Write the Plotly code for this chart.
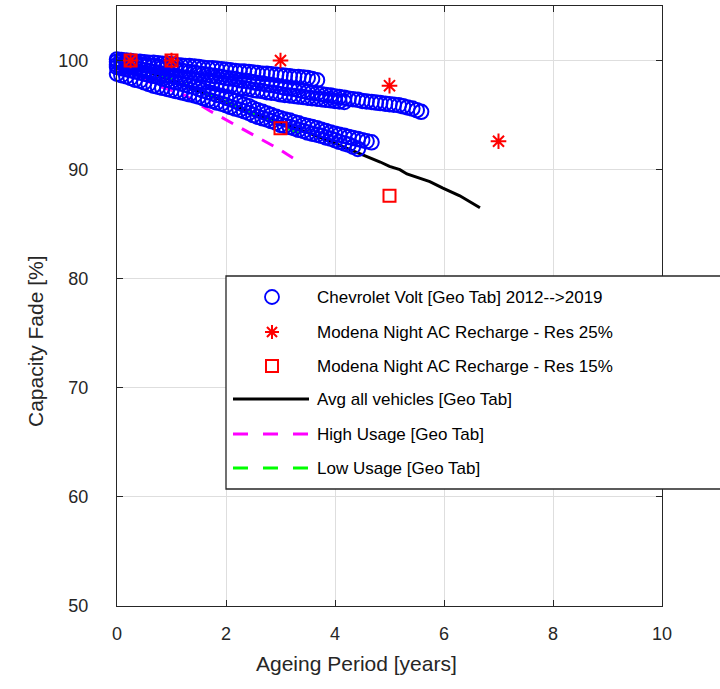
import plotly.graph_objects as go

# Vehicle age grid (years, monthly steps)
AGE_YEARS = [
    0.00, 0.08, 0.17, 0.25, 0.33, 0.42, 0.50, 0.58, 0.67, 0.75, 0.83, 0.92,
    1.00, 1.08, 1.17, 1.25, 1.33, 1.42, 1.50, 1.58, 1.67, 1.75, 1.83, 1.92,
    2.00, 2.08, 2.17, 2.25, 2.33, 2.42, 2.50, 2.58, 2.67, 2.75, 2.83, 2.92,
    3.00, 3.08, 3.17, 3.25, 3.33, 3.42, 3.50, 3.58, 3.67, 3.75, 3.83, 3.92,
    4.00, 4.08, 4.17, 4.25, 4.33, 4.42, 4.50, 4.58, 4.67, 4.75, 4.83, 4.92,
    5.00, 5.08, 5.17, 5.25, 5.33, 5.42, 5.50, 5.58,
]

# Chevrolet Volt capacity (%) per vehicle group, Geotab data
VOLT_A = [100.1, 100.05, 100.0, 99.95, 99.9, 99.9, 99.85, 99.8, 99.8, 99.75, 99.7, 99.7,
          99.65, 99.6, 99.55, 99.5, 99.5, 99.45, 99.4, 99.35, 99.3, 99.3, 99.25, 99.2,
          99.15, 99.1, 99.05, 99.0, 99.0, 98.95, 98.9, 98.85, 98.8, 98.8, 98.75, 98.7,
          98.65, 98.6, 98.55, 98.5, 98.5, 98.45, 98.4, 98.3, 98.2]
VOLT_B = [99.9, 99.85, 99.8, 99.75, 99.7, 99.65, 99.6, 99.55, 99.5, 99.4, 99.35, 99.3,
          99.2, 99.15, 99.1, 99.0, 98.95, 98.9, 98.8, 98.75, 98.7, 98.6, 98.55, 98.5,
          98.4, 98.35, 98.3, 98.2, 98.15, 98.1, 98.0, 97.95, 97.9, 97.8, 97.75, 97.7,
          97.6, 97.5, 97.45, 97.4, 97.3, 97.2, 97.1, 97.05, 97.0, 96.9, 96.85, 96.8,
          96.7, 96.65, 96.6, 96.5, 96.45, 96.4, 96.3, 96.25, 96.2, 96.15, 96.1, 96.05,
          96.0, 95.95, 95.9, 95.8, 95.7, 95.6, 95.45, 95.3]
VOLT_C = [99.6, 99.5, 99.45, 99.4, 99.3, 99.2, 99.1, 99.05, 98.95, 98.9, 98.8, 98.7,
          98.6, 98.55, 98.45, 98.4, 98.3, 98.2, 98.1, 98.05, 98.0, 97.95, 97.85, 97.8,
          97.7, 97.65, 97.6, 97.5, 97.45, 97.4, 97.3, 97.25, 97.2, 97.1, 97.05, 97.0,
          96.9, 96.85, 96.8, 96.75, 96.7, 96.65, 96.6, 96.55, 96.5, 96.45, 96.4, 96.35,
          96.3, 96.25, 96.2]
VOLT_D = [98.8, 98.65, 98.55, 98.4, 98.25, 98.15, 98.0, 97.85, 97.7, 97.6, 97.5, 97.4,
          97.3, 97.2, 97.1, 97.0, 96.9, 96.8, 96.7, 96.55, 96.4, 96.3, 96.15, 96.05,
          95.9, 95.75, 95.6, 95.5, 95.35, 95.2, 95.0, 94.85, 94.7, 94.6, 94.45, 94.3,
          94.1, 94.0, 93.9, 93.8, 93.65, 93.55, 93.4, 93.3, 93.2, 93.1, 92.95, 92.85,
          92.7, 92.55, 92.4, 92.3, 92.1, 91.9]
VOLT_E = [99.4, 99.3, 99.2, 99.1, 99.0, 98.9, 98.8, 98.7, 98.6, 98.5, 98.35, 98.25,
          98.1, 98.0, 97.9, 97.8, 97.65, 97.55, 97.4, 97.25, 97.1, 97.0, 96.85, 96.75,
          96.6, 96.45, 96.3, 96.1, 95.95, 95.8, 95.6, 95.45, 95.3, 95.15, 95.0, 94.85,
          94.7, 94.6, 94.5, 94.35, 94.25, 94.1, 94.0, 93.9, 93.8, 93.65, 93.55, 93.4,
          93.3, 93.2, 93.1, 93.0, 92.9, 92.8, 92.7, 92.6, 92.5]
VOLT_GROUPS = [VOLT_A, VOLT_B, VOLT_C, VOLT_D, VOLT_E]

# Modena night AC recharge simulations
RES25_YEARS = [0.25, 1.0, 3.0, 5.0, 7.0]
RES25_CAP = [100.0, 100.0, 100.0, 97.7, 92.6]
RES15_YEARS = [0.25, 1.0, 3.0, 5.0]
RES15_CAP = [100.0, 100.0, 93.8, 87.6]

# Geotab fleet curves
AVG_YEARS = [0, 0.5, 1.0, 1.5, 2.0, 2.5, 3.0, 3.5, 4.0, 4.5, 4.83, 5.0, 5.19, 5.32,
             5.74, 5.98, 6.29, 6.66]
AVG_CAP = [100.0, 99.1, 98.2, 97.2, 96.2, 95.2, 94.3, 93.4, 92.4, 91.4, 90.7, 90.3,
           90.0, 89.6, 88.9, 88.3, 87.6, 86.5]
HIGH_YEARS = [0, 0.4, 0.75, 1.25, 1.7, 2.13, 2.62, 3.0, 3.12, 3.25]
HIGH_CAP = [99.0, 98.4, 97.7, 96.8, 95.4, 94.2, 92.9, 91.8, 91.4, 91.0]
LOW_YEARS = [0, 0.5, 1.0, 1.5, 2.0, 2.5, 3.0, 3.35]
LOW_CAP = [100.0, 99.2, 98.3, 97.3, 96.3, 95.1, 94.0, 93.3]

LEGEND_LABELS = [
    "Chevrolet Volt [Geo Tab] 2012-->2019",
    "Modena Night AC Recharge - Res 25%",
    "Modena Night AC Recharge - Res 15%",
    "Avg all vehicles [Geo Tab]",
    "High Usage [Geo Tab]",
    "Low Usage [Geo Tab]",
]

FONT = "Liberation Sans, Arial, Helvetica, sans-serif"
AXIS_COLOR = "#262626"
GRID_COLOR = "#dedede"

W, H = 720, 689
ML, MR, MT, MB = 117, 58, 6, 83
PW, PH = W - ML - MR, H - MT - MB

fig = go.Figure()

dash = "13px,10px"
fig.add_trace(go.Scatter(x=AVG_YEARS, y=AVG_CAP, mode="lines",
                         line=dict(color="black", width=3), showlegend=False))
fig.add_trace(go.Scatter(x=LOW_YEARS, y=LOW_CAP, mode="lines",
                         line=dict(color="#00ff00", width=3, dash=dash), showlegend=False))
fig.add_trace(go.Scatter(x=HIGH_YEARS, y=HIGH_CAP, mode="lines",
                         line=dict(color="#ff00ff", width=3, dash=dash), showlegend=False))

for grp in VOLT_GROUPS:
    fig.add_trace(go.Scatter(
        x=AGE_YEARS[:len(grp)], y=grp, mode="markers", cliponaxis=False,
        marker=dict(symbol="circle-open", size=14.5, color="#0000ff",
                    line=dict(width=2, color="#0000ff")),
        showlegend=False))

fig.add_trace(go.Scatter(
    x=RES25_YEARS, y=RES25_CAP, mode="markers", cliponaxis=False,
    marker=dict(symbol="asterisk-open", size=13, color="#ff0000",
                line=dict(width=2, color="#ff0000")),
    showlegend=False))
fig.add_trace(go.Scatter(
    x=RES15_YEARS, y=RES15_CAP, mode="markers", cliponaxis=False,
    marker=dict(symbol="square-open", size=12, color="#ff0000",
                line=dict(width=2, color="#ff0000")),
    showlegend=False))


# pixel -> paper coordinate helpers for the legend box
def px(x):
    return (x - ML) / PW


def py(y):
    return (H - MB - y) / PH


shapes = []
annotations = []

# legend frame
shapes.append(dict(type="rect", xref="paper", yref="paper", layer="above",
                   x0=px(226), x1=px(735), y0=py(489), y1=py(276),
                   fillcolor="white", line=dict(color="#262626", width=1.3)))

rows = [297, 332, 366, 399, 434, 468]
sx = 272
# circle symbol
shapes.append(dict(type="circle", xref="paper", yref="paper", layer="above",
                   x0=px(sx - 7), x1=px(sx + 7), y0=py(rows[0] + 7), y1=py(rows[0] - 7),
                   line=dict(color="#0000ff", width=1.8)))
# asterisk symbol
r = 7
cy = rows[1]
for (dx, dy) in [(0, r), (r, 0), (r * 0.72, r * 0.72), (r * 0.72, -r * 0.72)]:
    shapes.append(dict(type="line", xref="paper", yref="paper", layer="above",
                       x0=px(sx - dx), x1=px(sx + dx), y0=py(cy - dy), y1=py(cy + dy),
                       line=dict(color="#ff0000", width=2)))
# square symbol
shapes.append(dict(type="rect", xref="paper", yref="paper", layer="above",
                   x0=px(sx - 6), x1=px(sx + 6), y0=py(rows[2] + 6), y1=py(rows[2] - 6),
                   line=dict(color="#ff0000", width=2)))
# line symbols
for yrow, col, dsh in [(rows[3], "black", "solid"), (rows[4], "#ff00ff", "15px,15px"),
                       (rows[5], "#00ff00", "15px,15px")]:
    shapes.append(dict(type="line", xref="paper", yref="paper", layer="above",
                       x0=px(233), x1=px(309), y0=py(yrow), y1=py(yrow),
                       line=dict(color=col, width=3, dash=dsh)))

for yrow, label in zip(rows, LEGEND_LABELS):
    annotations.append(dict(x=px(315), y=py(yrow), xref="paper", yref="paper",
                            text=label, showarrow=False, xanchor="left", yanchor="middle",
                            font=dict(family=FONT, size=17, color="black")))

# axis titles
annotations.append(dict(x=px(356), y=py(663), xref="paper", yref="paper",
                        text="Ageing Period [years]", showarrow=False,
                        xanchor="center", yanchor="middle",
                        font=dict(family=FONT, size=21, color=AXIS_COLOR)))
annotations.append(dict(x=px(35), y=py(341), xref="paper", yref="paper",
                        text="Capacity Fade [%]", showarrow=False, textangle=-90,
                        xanchor="center", yanchor="middle",
                        font=dict(family=FONT, size=21, color=AXIS_COLOR)))

axis_common = dict(showgrid=True, gridcolor=GRID_COLOR, gridwidth=1, zeroline=False,
                   showline=True, linecolor=AXIS_COLOR, linewidth=1.3, mirror="ticks",
                   ticks="inside", ticklen=6, tickcolor=AXIS_COLOR, tickwidth=1.3,
                   tickfont=dict(family=FONT, size=18, color=AXIS_COLOR))

fig.update_layout(
    width=W, height=H,
    margin=dict(l=ML, r=MR, t=MT, b=MB, pad=0),
    paper_bgcolor="white", plot_bgcolor="white",
    xaxis=dict(range=[0, 10], tick0=0, dtick=2, ticklabelstandoff=11, **axis_common),
    yaxis=dict(range=[50, 105], tick0=50, dtick=10, ticklabelstandoff=24, **axis_common),
    shapes=shapes, annotations=annotations, showlegend=False,
)

fig.write_html("out.html")
